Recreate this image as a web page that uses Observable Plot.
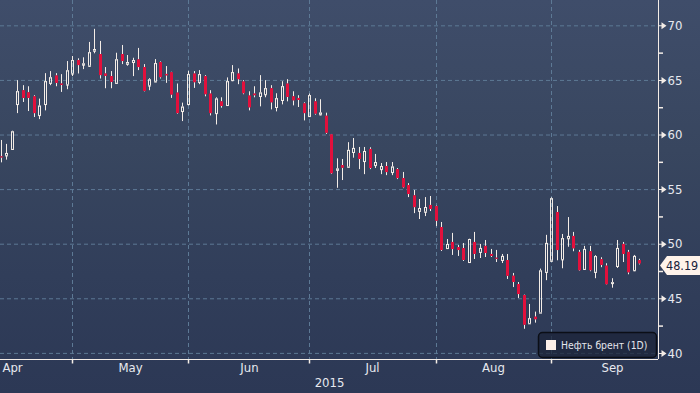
<!DOCTYPE html>
<html><head><meta charset="utf-8">
<script src="https://cdn.jsdelivr.net/npm/d3@7"></script>
<script src="https://cdn.jsdelivr.net/npm/@observablehq/plot@0.6"></script>
<style>
html,body{margin:0;padding:0;}
body{width:700px;height:393px;overflow:hidden;background:linear-gradient(to bottom,#3f4d6a 0%,#38465f 38%,#313e5a 70%,#2c3855 100%);}
#chart svg{display:block;font-family:"DejaVu Sans Condensed","DejaVu Sans",sans-serif;font-stretch:condensed;}
</style></head><body><div id="chart"></div>
<script>
// Daily OHLC, Brent (1D), mid-April .. late September 2015
const open = [58.0,58.09,58.68,62.79,64.06,63.87,63.5,61.78,62.79,64.73,65.41,64.67,64.58,65.59,66.82,66.4,66.3,67.68,67.37,65.59,65.35,64.73,67.37,66.48,66.64,66.88,66.18,64.49,64.86,66.64,65.55,65.71,63.84,62.15,62.79,65.59,64.82,65.35,63.75,61.96,63.04,62.7,64.98,65.59,64.86,63.57,63.75,63.53,63.69,64.24,62.52,63.16,64.67,63.5,63.35,62.86,61.69,63.04,61.85,61.72,60.02,56.77,57.2,57.05,58.4,58.31,57.57,58.68,57.2,56.83,57.11,56.56,56.83,56.01,55.37,54.43,53.01,52.93,53.55,53.45,51.53,49.6,50.16,49.69,49.6,48.32,50.16,49.25,49.8,49.06,48.72,48.51,48.51,47.07,46.31,45.3,42.71,43.32,43.69,47.42,48.44,52.9,48.57,50.5,50.71,49.25,47.69,49.31,47.42,48.58,47.99,46.39,47.96,49.98,49.25,47.57,48.5];
const high = [59.5,59.14,60.35,64.98,64.52,64.42,63.6,63.29,65.62,65.81,65.62,65.53,66.73,67.19,66.98,67.07,68.48,69.68,68.57,66.18,65.81,67.49,68.2,67.28,67.03,67.93,66.45,65.16,66.91,66.7,66.27,65.75,64.67,62.92,65.83,65.81,65.9,65.44,64.06,63.41,63.41,65.23,66.36,66.05,64.98,63.96,64.42,65.44,64.98,64.52,63.78,64.88,65.07,63.96,63.6,62.95,63.75,63.32,63.23,62.0,60.05,57.82,57.76,59.3,59.68,58.86,58.86,58.83,58.22,57.39,57.48,57.48,56.93,56.57,55.55,54.92,54.09,54.27,54.37,53.49,51.99,50.43,50.99,49.88,50.06,50.46,51.08,49.98,50.34,49.52,49.43,49.06,49.06,47.32,46.49,45.34,44.48,43.78,47.72,50.81,54.25,53.45,50.89,52.44,51.08,49.43,49.8,49.8,48.95,48.76,48.21,46.84,50.34,50.16,49.43,48.97,48.62];
const low = [57.45,57.7,58.6,61.96,62.98,62.15,61.6,61.41,62.21,64.52,64.42,63.9,64.15,65.35,65.59,65.99,66.2,67.44,65.13,64.24,64.24,64.67,66.45,66.3,65.35,65.9,63.95,64.06,64.79,65.13,64.73,63.35,61.9,61.23,62.67,64.27,64.61,63.5,61.75,60.92,62.46,62.67,64.88,64.61,63.69,62.21,63.41,62.58,63.41,62.3,62.12,62.76,63.04,62.67,62.52,61.29,61.63,61.82,61.75,60.06,56.38,55.12,55.83,56.99,57.88,56.83,56.37,56.83,56.93,56.37,56.28,56.28,55.92,55.09,54.27,52.8,52.26,52.53,52.99,51.61,49.33,49.51,48.97,48.88,48.42,48.23,48.6,48.69,48.78,48.78,48.32,48.23,46.77,46.03,45.03,42.21,42.66,42.77,43.66,46.66,48.35,48.48,47.75,49.72,49.31,47.52,47.6,47.48,46.84,47.85,46.26,45.97,47.78,48.32,47.2,47.48,48.1];
const close = [57.9,58.31,60.28,63.96,63.35,63.35,61.96,62.64,64.88,65.23,64.73,64.54,65.87,66.82,66.36,66.5,67.53,67.83,65.44,65.37,64.82,66.88,66.73,66.64,66.82,66.18,63.99,65.04,66.54,65.25,65.42,63.66,61.96,62.55,65.53,64.79,65.53,63.69,61.96,63.29,62.61,64.88,65.71,65.07,63.78,62.49,63.6,63.84,64.24,62.95,63.32,64.42,63.44,63.13,63.16,61.96,63.6,61.91,62.0,60.16,56.45,56.88,56.96,58.59,58.77,57.76,58.49,56.93,57.48,57.11,56.56,57.06,56.01,55.16,54.55,53.35,53.27,53.36,53.18,52.1,49.42,49.97,49.51,49.42,48.51,50.43,49.06,49.61,49.15,48.88,48.62,48.88,47.06,46.49,45.39,42.58,43.17,43.08,47.54,50.07,54.15,49.42,50.5,50.71,49.58,47.57,49.52,47.57,48.86,48.06,46.29,46.46,49.61,49.06,47.38,48.88,48.19];

const monthNames = ["Apr","May","Jun","Jul","Aug","Sep"];
const monthStarts = [-9,13,34,56,79,100,122];   // trading-day index of each month's first day
const yearLabel = "2015";
const priceTicks = [40,45,50,55,60,65,70];
const minorTicks = [42.5,47.5,52.5,57.5,62.5,67.5];
const seriesName = "Нефть брент (1D)";
const lastPrice = 48.19;

const candles = open.map((o,i)=>({i, open:o, high:high[i], low:low[i], close:close[i]}));
const up = candles.filter(d=>d.close>=d.open);
const down = candles.filter(d=>d.close<d.open);
const months = monthNames.map((m,k)=>({name:m, mid:(monthStarts[k]+monthStarts[k+1])/2}));
const gridX = monthStarts.slice(1,-1);

const xDomain = [-0.18, 119.45];
const yDomain = [39.44, 72.32];
const W = "#f4ede7", RED = "#e2103c", GRID = "#5d7995", TXT = "#e7e9ef";

const hTick = {draw(c){c.moveTo(0,0);c.lineTo(4.5,0);}};
const vTick = {draw(c){c.moveTo(0,0);c.lineTo(0,4);}};
const flag = {draw(c){c.moveTo(0,-0.5);c.lineTo(3,-0.5);c.lineTo(3,-3.5);c.lineTo(8,0);c.lineTo(3,3.5);c.lineTo(3,0.5);c.lineTo(0,0.5);c.closePath();}};

const chart = Plot.plot({
  width:700, height:393,
  marginLeft:0, marginRight:42, marginTop:0, marginBottom:34,
  style:{background:"transparent", overflow:"visible"},
  x:{domain:xDomain, axis:null, round:true},
  y:{domain:yDomain, axis:null},
  marks:[
    Plot.ruleY(priceTicks, {y:d=>d, stroke:GRID, strokeDasharray:"4,3"}),
    Plot.ruleX(gridX, {x:d=>d, stroke:GRID, strokeDasharray:"4,3"}),
    // wicks
    Plot.ruleX(candles, {x:"i", y1:"high", y2:d=>Math.max(d.open,d.close), stroke:W}),
    Plot.ruleX(candles, {x:"i", y1:d=>Math.min(d.open,d.close), y2:"low", stroke:W}),
    // falling candles: filled red body
    Plot.ruleX(down, {x:"i", y1:"open", y2:"close", stroke:RED, strokeWidth:3}),
    // rising candles: hollow white body
    Plot.ruleX(up, {x:"i", y1:"open", y2:"close", stroke:W, dx:-1}),
    Plot.ruleX(up, {x:"i", y1:"open", y2:"close", stroke:W, dx:1}),
    Plot.ruleY(up, {y:"open", x1:"i", x2:"i", insetLeft:-1, insetRight:-2, stroke:W}),
    Plot.ruleY(up, {y:"close", x1:"i", x2:"i", insetLeft:-1, insetRight:-2, stroke:W}),
    // axes
    Plot.ruleX([xDomain[1]], {x:d=>d, stroke:W}),
    Plot.ruleY([yDomain[0]], {y:d=>d, stroke:W}),
    Plot.dot(minorTicks, {y:d=>d, frameAnchor:"right", symbol:hTick, stroke:W, fill:"none", r:3}),
    Plot.dot(priceTicks, {y:d=>d, frameAnchor:"right", symbol:flag, fill:W, stroke:"none", r:3}),
    Plot.text(priceTicks, {y:d=>d, text:d=>String(d), frameAnchor:"right", dx:9, textAnchor:"start", fill:TXT, fontSize:13}),
    Plot.dot(gridX, {x:d=>d, frameAnchor:"bottom", symbol:vTick, stroke:W, fill:"none", r:3}),
    Plot.text(months, {x:"mid", text:"name", frameAnchor:"bottom", dy:12, fill:TXT, fontSize:13}),
    Plot.text([yearLabel], {text:d=>d, frameAnchor:"bottom", dy:27, fill:TXT, fontSize:13})
  ]
});
document.getElementById("chart").appendChild(chart);

// last price tag and legend
const svg = d3.select(chart);
const yc = chart.scale("y").apply(lastPrice) + 2;
const tag = svg.append("g").attr("text-anchor","start");
tag.append("path").attr("d",`M660,${yc} L667,${yc-9.5} L700,${yc-9.5} L700,${yc+9.5} L667,${yc+9.5} Z`).attr("fill","#fff3ea");
tag.append("text").attr("x",666).attr("y",yc).attr("dy","0.36em").attr("text-anchor","start").attr("font-size",12.5).attr("fill","#17203a").text(lastPrice.toFixed(2));

const lg = svg.append("g").attr("text-anchor","start");
lg.append("rect").attr("x",538.5).attr("y",332.5).attr("width",118).attr("height",25).attr("rx",4)
  .attr("fill","rgba(28,36,56,0.75)").attr("stroke","#0b0e16").attr("stroke-width",1.5);
lg.append("rect").attr("x",546).attr("y",340).attr("width",10).attr("height",10).attr("fill","#fcefe8");
lg.append("text").attr("x",561).attr("y",345).attr("dy","0.36em").attr("text-anchor","start")
  .attr("font-size",10.3).attr("fill","#e4e6ec").text(seriesName);
</script></body></html>
